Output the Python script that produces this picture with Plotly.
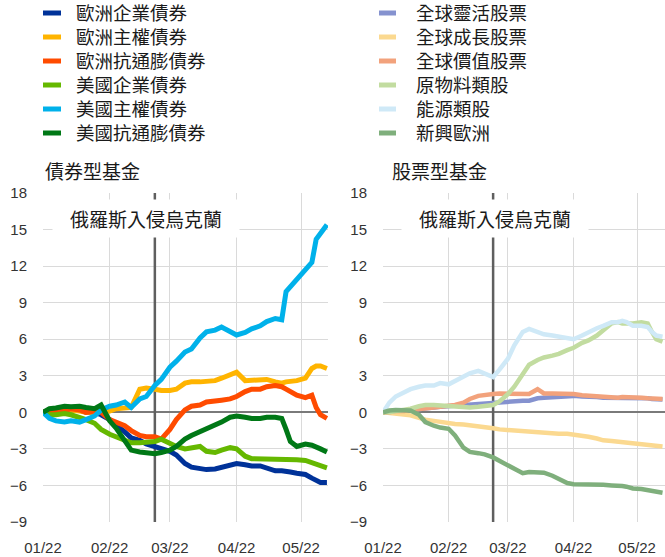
import plotly.graph_objects as go

# ---------------- data ----------------
dates = ["2022-01-01", "2022-01-04", "2022-01-07", "2022-01-11", "2022-01-14", "2022-01-18",
         "2022-01-21", "2022-01-25", "2022-01-28", "2022-02-01", "2022-02-04", "2022-02-08",
         "2022-02-11", "2022-02-15", "2022-02-18", "2022-02-22", "2022-02-25", "2022-03-01",
         "2022-03-04", "2022-03-08", "2022-03-11", "2022-03-15", "2022-03-18", "2022-03-22",
         "2022-03-25", "2022-03-29", "2022-04-01", "2022-04-05", "2022-04-08", "2022-04-12",
         "2022-04-15", "2022-04-19", "2022-04-22", "2022-04-24", "2022-04-26", "2022-04-29",
         "2022-05-03", "2022-05-06", "2022-05-08", "2022-05-10", "2022-05-13"]

# bond funds (left panel)
euro_corp = [0, 0.1, 0.1, 0.2, 0.3, 0.2, 0.0, 0.0, -0.2, -0.6, -1.0, -1.6, -2.1, -2.3, -2.6, -2.8,
             -3.0, -3.2, -3.5, -4.2, -4.5, -4.65, -4.7, -4.65, -4.5, -4.3, -4.2, -4.3, -4.4, -4.4,
             -4.6, -4.8, -4.8, -4.9, -4.9, -5.0, -5.1, -5.4, -5.6, -5.75, -5.75]
euro_sov = [0, 0.1, 0.2, 0.1, 0.2, 0.1, 0.0, 0.0, 0.0, 0.1, 0.3, 0.4, 0.4, 1.9, 2.0, 1.9,
            1.8, 1.8, 1.9, 2.4, 2.5, 2.5, 2.5, 2.6, 2.8, 3.1, 3.3, 2.6, 2.6, 2.6,
            2.7, 2.5, 2.4, 2.5, 2.5, 2.6, 2.8, 3.6, 3.8, 3.8, 3.6]
euro_ilb = [0, 0.1, 0.1, 0.1, 0.3, 0.2, 0.0, 0.1, 0.0, -0.6, -0.8, -1.1, -1.5, -1.9, -2.0, -2.0,
            -2.2, -1.4, -0.6, 0.2, 0.5, 0.6, 0.85, 0.9, 1.0, 1.1, 1.3, 1.7, 1.9, 1.9,
            2.1, 2.2, 2.1, 1.9, 1.7, 1.4, 1.2, 1.4, 0.4, -0.2, -0.5]
us_corp = [0, -0.2, -0.2, -0.1, -0.2, -0.4, -0.6, -0.9, -1.4, -1.8, -2.0, -2.2, -2.5, -2.5, -2.5, -2.4,
           -2.2, -2.6, -2.8, -3.0, -2.9, -2.8, -3.2, -3.3, -3.1, -2.9, -3.0, -3.6, -3.8, -3.8,
           -3.9, -3.9, -3.85, -3.9, -3.85, -3.9, -3.95, -4.1, -4.2, -4.35, -4.55]
us_sov = [0, -0.5, -0.7, -0.8, -0.7, -0.8, -0.6, -0.3, 0.2, 0.5, 0.6, 0.85, 0.4, 1.1, 1.3, 2.2,
          2.7, 3.7, 4.2, 4.95, 5.2, 6.1, 6.6, 6.75, 7.0, 6.6, 6.35, 6.55, 6.85, 7.1,
          7.45, 7.7, 7.6, 9.9, 10.3, 11.0, 11.8, 12.3, 14.2, 14.7, 15.4]
us_ilb = [0, 0.3, 0.35, 0.5, 0.45, 0.5, 0.4, 0.3, 0.6, -0.7, -1.3, -2.4, -3.1, -3.25, -3.35, -3.4,
          -3.3, -3.1, -2.8, -2.2, -1.9, -1.6, -1.3, -1.0, -0.8, -0.4, -0.3, -0.4, -0.5, -0.5,
          -0.4, -0.4, -0.5, -1.4, -2.4, -2.8, -2.6, -2.7, -2.8, -3.0, -3.25]

# equity funds (right panel)
global_flex = [0, 0.0, 0.1, 0.1, 0.2, 0.3, 0.35, 0.4, 0.45, 0.5, 0.55, 0.6, 0.7, 0.7, 0.75, 0.8,
               0.85, 0.9, 0.95, 0.95, 0.95, 1.15, 1.2, 1.25, 1.25, 1.3, 1.35, 1.3, 1.3, 1.25,
               1.2, 1.2, 1.15, 1.2, 1.2, 1.15, 1.2, 1.15, 1.1, 1.1, 1.05]
global_growth = [0, -0.05, -0.1, -0.15, -0.25, -0.45, -0.6, -0.7, -0.8, -0.9, -0.95, -1.0, -1.05, -1.1, -1.2, -1.3,
                 -1.4, -1.45, -1.5, -1.55, -1.6, -1.7, -1.7, -1.7, -1.75, -1.75, -1.8, -1.9, -2.0, -2.15,
                 -2.3, -2.35, -2.4, -2.45, -2.5, -2.55, -2.6, -2.65, -2.7, -2.75, -2.8]
global_value = [0, 0.0, 0.1, 0.1, 0.2, 0.3, 0.35, 0.4, 0.45, 0.55, 0.6, 0.8, 1.1, 1.35, 1.45, 1.5,
                1.55, 1.55, 1.55, 1.5, 1.5, 1.9, 1.55, 1.55, 1.55, 1.5, 1.5, 1.4, 1.35, 1.3,
                1.25, 1.25, 1.2, 1.25, 1.25, 1.2, 1.2, 1.15, 1.15, 1.1, 1.1]
materials = [0, 0.0, 0.1, 0.2, 0.3, 0.5, 0.6, 0.6, 0.55, 0.5, 0.45, 0.4, 0.4, 0.45, 0.5, 0.6,
             0.9, 1.5, 2.1, 3.2, 3.9, 4.3, 4.5, 4.65, 4.8, 5.1, 5.3, 5.7, 5.9, 6.3,
             6.7, 7.3, 7.4, 7.3, 7.3, 7.3, 7.4, 7.3, 6.6, 6.0, 5.8]
energy = [0, 0.8, 1.3, 1.7, 1.9, 2.1, 2.2, 2.2, 2.4, 2.3, 2.6, 2.9, 3.2, 3.4, 3.2, 2.9,
          3.5, 4.4, 5.5, 6.6, 6.85, 6.6, 6.4, 6.3, 6.2, 6.05, 6.0, 6.3, 6.6, 6.9,
          7.1, 7.4, 7.4, 7.5, 7.4, 7.1, 7.1, 7.0, 6.6, 6.3, 6.2]
emerging_europe = [0, 0.15, 0.2, 0.2, 0.15, -0.2, -0.8, -1.1, -1.25, -1.35, -1.9, -2.9, -3.25, -3.35, -3.45, -3.7,
                   -4.0, -4.35, -4.65, -5.0, -4.9, -4.9, -4.95, -5.2, -5.5, -5.8, -5.9, -5.9, -5.9, -5.95,
                   -5.95, -6.0, -6.0, -6.05, -6.1, -6.25, -6.3, -6.4, -6.45, -6.5, -6.6]

bond_names = ["歐洲企業債券", "歐洲主權債券", "歐洲抗通膨債券", "美國企業債券", "美國主權債券", "美國抗通膨債券"]
bond_series = [euro_corp, euro_sov, euro_ilb, us_corp, us_sov, us_ilb]
bond_colors = ["#003299", "#FFB400", "#FF4B00", "#65B800", "#00B1EA", "#007816"]

equity_names = ["全球靈活股票", "全球成長股票", "全球價值股票", "原物料類股", "能源類股", "新興歐洲"]
equity_series = [global_flex, global_growth, global_value, materials, energy, emerging_europe]
equity_colors = ["#8592CF", "#FBD990", "#F2A27C", "#C2DCA0", "#CFE9F7", "#7FAF7C"]

panel_titles = ["債券型基金", "股票型基金"]
event_label = "俄羅斯入侵烏克蘭"
event_date = "2022-02-22"
y_ticks = [-9, -6, -3, 0, 3, 6, 9, 12, 15, 18]

# ---------------- layout helpers ----------------
W, H = 665, 557
ML, MR, MT, MB = 43, 0, 193, 35
PW, PH = W - ML - MR, H - MT - MB


def xp(px):
    return (px - ML) / PW


def yp(py):
    return (H - MB - py) / PH


CJK = "Noto Sans CJK TC, Noto Sans CJK SC, sans-serif"
TXT = "#1a1a1a"

fig = go.Figure()
for name, ser, col in zip(bond_names, bond_series, bond_colors):
    fig.add_trace(go.Scatter(x=dates, y=ser, name=name, mode="lines",
                             line=dict(color=col, width=5), xaxis="x", yaxis="y",
                             showlegend=False))
for name, ser, col in zip(equity_names, equity_series, equity_colors):
    fig.add_trace(go.Scatter(x=dates, y=ser, name=name, mode="lines",
                             line=dict(color=col, width=4.5), xaxis="x2", yaxis="y2",
                             showlegend=False))

xcommon = dict(type="date", tickformat="%m/%y", dtick="M1", tick0="2022-01-01",
               showgrid=True, gridcolor="#DADADA", gridwidth=1.3, zeroline=False,
               showline=False, ticks="outside", ticklen=12, tickcolor="rgba(0,0,0,0)",
               tickfont=dict(family="Liberation Sans, Arial", size=15, color="#333"))
ycommon = dict(range=[-9, 18], tickvals=y_ticks, showgrid=True, gridcolor="#DADADA",
               gridwidth=1.3, zeroline=True, zerolinecolor="#7a7a7a", zerolinewidth=1.8,
               showline=False, ticks="outside", ticklen=12, tickcolor="rgba(0,0,0,0)",
               tickfont=dict(family="Liberation Sans, Arial", size=15, color="#333"))

fig.update_layout(
    width=W, height=H,
    margin=dict(l=ML, r=MR, t=MT, b=MB),
    paper_bgcolor="white", plot_bgcolor="white",
    showlegend=False,
    xaxis=dict(xcommon, domain=[0, xp(328)], range=["2022-01-01", "2022-05-13 12:00"], anchor="y"),
    yaxis=dict(ycommon, domain=[0, 1], anchor="x"),
    xaxis2=dict(xcommon, domain=[xp(383), 1], range=["2022-01-01", "2022-05-14 04:00"], anchor="y2"),
    yaxis2=dict(ycommon, domain=[0, 1], anchor="x2"),
)

shapes = []
annotations = []
# invasion lines
for xr, yr in (("x", "y"), ("x2", "y2")):
    shapes.append(dict(type="line", xref=xr, yref=yr, x0=event_date, x1=event_date,
                       y0=-9, y1=18, line=dict(color="#5f5f5f", width=2.5), layer="between"))

# event labels with white box
for cx in (145.5, 495):
    annotations.append(dict(text=event_label, xref="paper", yref="paper",
                            x=xp(cx), y=yp(218.5), xanchor="center", yanchor="middle",
                            showarrow=False, bgcolor="white", width=186, height=37,
                            borderpad=0, font=dict(family=CJK, size=19, color=TXT)))

# panel titles
for tx, title in zip((43, 390), panel_titles):
    annotations.append(dict(text=title, xref="paper", yref="paper", x=xp(tx), y=yp(170),
                            xanchor="left", yanchor="middle", showarrow=False,
                            font=dict(family=CJK, size=19, color=TXT)))

# custom two-column legend
rows = [13, 37, 61, 85, 109, 133]
for col_names, col_colors, sx0, sx1, tx in ((bond_names, bond_colors, 43, 61, 75),
                                            (equity_names, equity_colors, 379, 396, 415)):
    for name, c, ry in zip(col_names, col_colors, rows):
        shapes.append(dict(type="rect", xref="paper", yref="paper",
                           x0=xp(sx0), x1=xp(sx1), y0=yp(ry + 2.5), y1=yp(ry - 2.5),
                           fillcolor=c, line=dict(width=0)))
        annotations.append(dict(text=name, xref="paper", yref="paper", x=xp(tx), y=yp(ry - 1),
                                xanchor="left", yanchor="middle", showarrow=False,
                                height=22, borderpad=0,
                                font=dict(family=CJK, size=18.5, color=TXT)))

fig.update_layout(shapes=shapes, annotations=annotations)
fig.write_html("out.html", config={"displayModeBar": False},
               post_script="document.body.style.margin='0px';document.body.style.overflow='hidden';")
